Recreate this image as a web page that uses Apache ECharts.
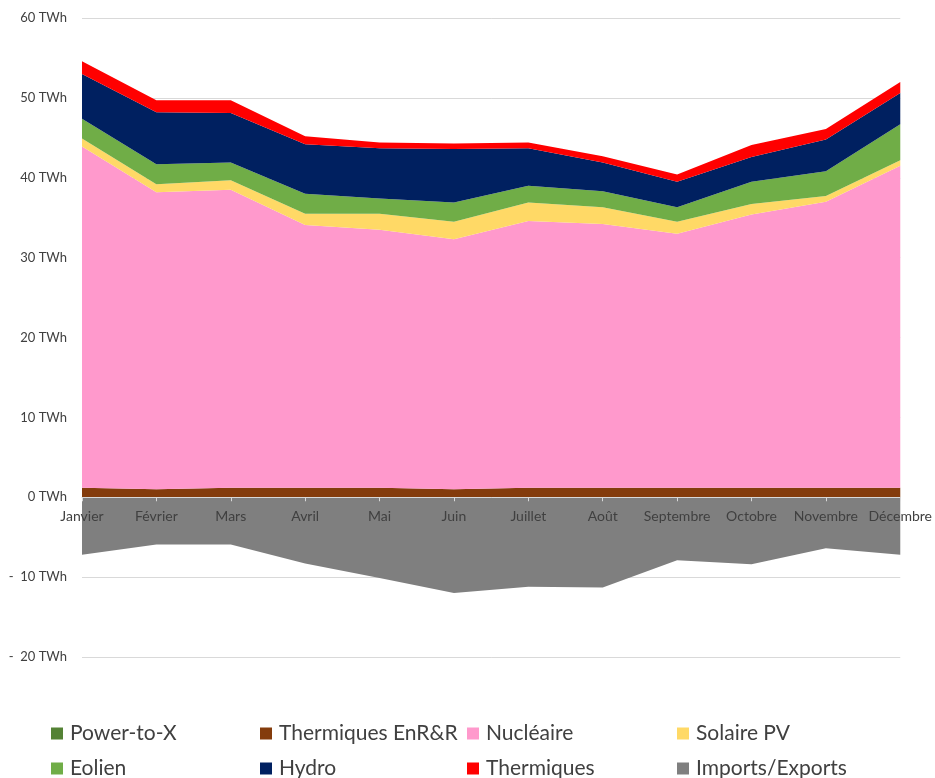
<!DOCTYPE html>
<html>
<head>
<meta charset="utf-8">
<script src="https://cdn.jsdelivr.net/npm/echarts@6/dist/echarts.min.js"></script>
<style>
html,body{margin:0;padding:0;background:#fff;}
#chart{width:935px;height:778px;}
</style>
</head>
<body>
<div id="chart"></div>
<script>
const months = ['Janvier','Février','Mars','Avril','Mai','Juin','Juillet','Août','Septembre','Octobre','Novembre','Décembre'];
const powerToX = [0,0,0,0,0,0,0,0,0,0,0,0];
const thermiquesEnRR = [1.2,1.0,1.2,1.2,1.2,1.0,1.2,1.2,1.2,1.2,1.2,1.2];
const nucleaire = [42.7,37.2,37.3,32.9,32.3,31.3,33.4,33.0,31.8,34.2,35.8,40.3];
const solairePV = [1.0,1.0,1.2,1.4,2.0,2.2,2.3,2.1,1.5,1.3,0.7,0.7];
const eolien = [2.5,2.5,2.2,2.5,1.9,2.4,2.1,2.0,1.8,2.8,3.1,4.5];
const hydro = [5.6,6.5,6.2,6.2,6.3,6.7,4.7,3.6,3.2,3.1,4.0,3.9];
const thermiques = [1.6,1.5,1.6,1.0,0.7,0.7,0.7,0.8,0.9,1.5,1.3,1.4];
const importsExports = [-7.2,-5.9,-5.9,-8.3,-10.1,-12.0,-11.2,-11.3,-7.9,-8.4,-6.4,-7.2];

const Y_MIN = -20, Y_MAX = 60, Y_STEP = 10;

const seriesDefs = [
  {name:'Power-to-X', data:powerToX, color:'#548235'},
  {name:'Thermiques EnR&R', data:thermiquesEnRR, color:'#843C0C'},
  {name:'Nucléaire', data:nucleaire, color:'#FF99CC'},
  {name:'Solaire PV', data:solairePV, color:'#FFD966'},
  {name:'Eolien', data:eolien, color:'#70AD47'},
  {name:'Hydro', data:hydro, color:'#002060'},
  {name:'Thermiques', data:thermiques, color:'#FF0000'},
  {name:'Imports/Exports', data:importsExports, color:'#7F7F7F'}
];

const FONT = 'Lato';
const W = 935, H = 778;
const GRID = {left:82, right:32, top:18, bottom:121};
const plotH = H - GRID.top - GRID.bottom;
// place the category axis on the zero line of the value axis
const zeroOffset = -((0 - Y_MIN) / (Y_MAX - Y_MIN)) * plotH;

function makeLegend(left, names){
  return {
    orient:'vertical', icon:'rect', itemWidth:12, itemHeight:12, itemGap:14,
    left:left, top:723, height:80, width:230, padding:0, selectedMode:false,
    data:names,
    textStyle:{fontFamily:FONT, fontSize:21, color:'#404040', lineHeight:20, padding:[0,0,0,2]}
  };
}

const chart = echarts.init(document.getElementById('chart'), null, {renderer:'canvas', width:W, height:H});
chart.setOption({
  animation:false,
  backgroundColor:'#fff',
  grid:{left:GRID.left, right:GRID.right, top:GRID.top, bottom:GRID.bottom, containLabel:false},
  legend:[
    makeLegend(51, ['Power-to-X','Eolien']),
    makeLegend(260, ['Thermiques EnR&R','Hydro']),
    makeLegend(467, ['Nucléaire','Thermiques']),
    makeLegend(677, ['Solaire PV','Imports/Exports'])
  ],
  xAxis:{
    type:'category', data:months, boundaryGap:false, z:10,
    position:'bottom', offset:zeroOffset,
    axisLine:{show:true, onZero:false, lineStyle:{color:'#D9D9D9', width:1}},
    axisTick:{show:true, length:4, inside:false, alignWithLabel:true, lineStyle:{color:'#D9D9D9'}},
    axisLabel:{fontFamily:FONT, fontSize:14, color:'#404040', margin:12, interval:0}
  },
  yAxis:{
    type:'value', min:Y_MIN, max:Y_MAX, interval:Y_STEP,
    axisLine:{show:false}, axisTick:{show:false},
    splitLine:{lineStyle:{color:'#D9D9D9', width:1}},
    axisLabel:{fontFamily:FONT, fontSize:13, color:'#404040', margin:15,
      formatter:function(v){ return v < 0 ? '-  ' + (-v) + ' TWh' : v + ' TWh'; }}
  },
  series: seriesDefs.map(function(s){
    return {
      name:s.name, type:'line', stack:'total', data:s.data,
      symbol:'none', smooth:false,
      lineStyle:{width:0, color:s.color},
      itemStyle:{color:s.color},
      areaStyle:{color:s.color, opacity:1}
    };
  })
});
</script>
</body>
</html>
